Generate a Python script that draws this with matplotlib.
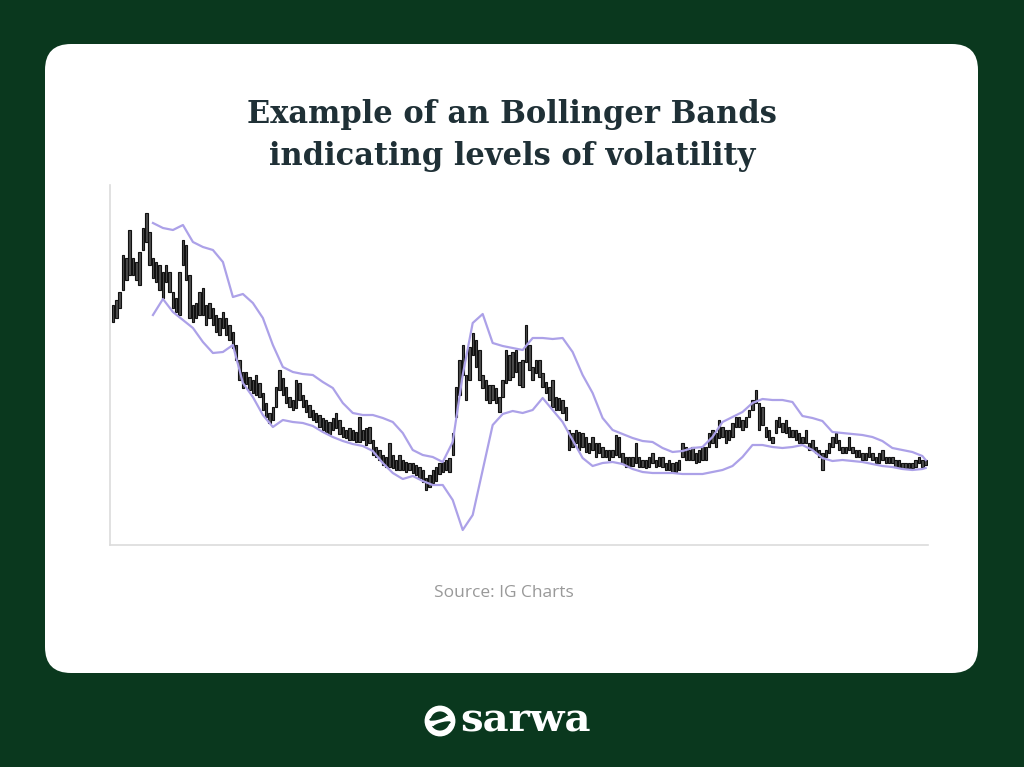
import numpy as np
import matplotlib
matplotlib.use("Agg")
import matplotlib.pyplot as plt
from matplotlib.patches import FancyBboxPatch, Ellipse, Circle

# ---------------- data (price units, arbitrary scale) ----------------
bar_high = [295, 300, 308, 345, 342, 370, 342, 338, 348, 372, 387, 368, 342, 338, 335, 328, 335, 328, 308, 302,
            328, 360, 355, 325, 295, 297, 308, 312, 295, 297, 292, 285, 282, 288, 282, 275, 268, 255, 240, 228,
            228, 223, 220, 225, 217, 207, 197, 187, 193, 213, 230, 222, 213, 203, 200, 220, 217, 205, 200, 195,
            190, 187, 185, 182, 180, 178, 182, 187, 180, 173, 170, 172, 170, 168, 183, 170, 172, 173, 160, 153,
            150, 145, 143, 157, 145, 140, 145, 140, 138, 137, 137, 135, 133, 130, 122, 125, 130, 133, 137, 138,
            140, 142, 167, 213, 240, 255, 225, 253, 267, 260, 250, 225, 220, 215, 215, 212, 203, 220, 250, 245,
            248, 250, 238, 240, 275, 255, 233, 240, 240, 227, 218, 213, 220, 203, 202, 200, 193, 170, 167, 170,
            168, 167, 163, 157, 163, 157, 157, 153, 150, 150, 150, 165, 163, 147, 143, 143, 143, 157, 143, 140,
            140, 143, 147, 140, 143, 143, 137, 140, 137, 138, 140, 157, 153, 150, 153, 147, 150, 153, 153, 167,
            170, 167, 180, 173, 170, 170, 177, 183, 183, 180, 183, 190, 200, 210, 197, 193, 173, 170, 163, 180,
            183, 177, 180, 173, 170, 170, 167, 163, 170, 157, 160, 153, 150, 147, 150, 157, 163, 167, 160, 153,
            153, 163, 153, 150, 150, 147, 147, 153, 147, 143, 147, 150, 143, 143, 143, 140, 140, 137, 137, 137,
            137, 140, 143, 140, 140]
bar_low = [278, 282, 292, 310, 320, 325, 325, 320, 315, 350, 358, 335, 322, 318, 310, 302, 318, 308, 292, 288,
           285, 335, 320, 282, 278, 282, 285, 285, 275, 282, 275, 268, 265, 272, 265, 260, 252, 240, 220, 212,
           216, 210, 207, 205, 203, 190, 183, 177, 180, 193, 210, 205, 197, 193, 190, 192, 200, 193, 188, 183,
           180, 178, 173, 170, 168, 166, 170, 172, 166, 163, 162, 160, 160, 158, 158, 160, 155, 157, 145, 143,
           140, 135, 133, 133, 132, 130, 130, 130, 128, 130, 127, 125, 122, 118, 110, 113, 117, 119, 126, 128,
           130, 128, 145, 183, 205, 225, 200, 220, 245, 233, 220, 212, 200, 197, 200, 197, 188, 203, 217, 220,
           223, 228, 215, 213, 238, 230, 220, 227, 223, 213, 207, 200, 193, 190, 190, 187, 180, 150, 153, 157,
           150, 153, 148, 147, 150, 143, 147, 143, 143, 140, 143, 145, 143, 137, 133, 133, 134, 137, 133, 133,
           132, 133, 137, 133, 134, 133, 130, 130, 128, 128, 130, 143, 140, 140, 140, 137, 138, 140, 140, 153,
           157, 153, 162, 163, 157, 160, 163, 173, 173, 170, 173, 183, 190, 197, 170, 175, 163, 160, 157, 167,
           173, 168, 167, 163, 163, 160, 157, 157, 157, 150, 150, 147, 143, 130, 143, 147, 153, 157, 150, 147,
           147, 150, 147, 143, 143, 140, 140, 143, 140, 137, 137, 140, 137, 137, 137, 133, 133, 132, 132, 132,
           132, 133, 137, 133, 135]

upper_band = [377, 372, 370, 375, 358, 353, 350, 338, 303, 306, 297, 282, 255, 233, 228, 226, 225, 218, 212, 197,
              187, 185, 185, 182, 178, 167, 150, 145, 143, 138, 158, 225, 277, 286, 257, 254, 252, 250, 262, 262,
              261, 262, 248, 225, 207, 182, 170, 166, 162, 159, 158, 152, 148, 149, 152, 153, 163, 178, 183, 188,
              197, 201, 200, 200, 198, 184, 182, 179, 168, 167, 166, 165, 163, 159, 152, 150, 148, 144, 140]
lower_band = [285, 301, 288, 280, 272, 258, 247, 248, 255, 217, 203, 185, 173, 180, 178, 177, 174, 168, 163, 159,
              156, 154, 149, 137, 127, 121, 124, 119, 115, 115, 100, 70, 85, 130, 175, 186, 189, 187, 190, 202,
              190, 178, 160, 142, 134, 137, 138, 136, 131, 128, 127, 127, 127, 126, 126, 126, 128, 130, 134, 143,
              155, 155, 153, 152, 153, 155, 150, 142, 139, 140, 139, 138, 136, 134, 133, 131, 130, 131, 132]

days = np.arange(len(bar_high))
band_days = list(range(12, 244, 3)) + [244]
n_b = min(len(band_days), len(upper_band), len(lower_band))

# ---------------- figure ----------------
W, H = 1024, 767
fig = plt.figure(figsize=(W / 100, H / 100), dpi=100)
bg_col = "#0a381e"
fig.patch.set_facecolor(bg_col)

bg = fig.add_axes([0, 0, 1, 1])
bg.set_xlim(0, W)
bg.set_ylim(H, 0)
bg.axis("off")
card = FancyBboxPatch((45, 44), 933, 629, boxstyle="round,pad=0,rounding_size=26",
                      facecolor="white", edgecolor="none")
bg.add_patch(card)

title_font = ["DejaVu Serif"]
bg.text(512, 123, "Example of an Bollinger Bands", ha="center", va="baseline",
        fontsize=22, fontweight="bold", family=title_font, color="#1f3036")
bg.text(512, 165, "indicating levels of volatility", ha="center", va="baseline",
        fontsize=22, fontweight="bold", family=title_font, color="#1f3036")

bg.text(504, 597, "Source: IG Charts", ha="center", va="baseline",
        fontsize=12.5, family=["Open Sans", "DejaVu Sans"], color="#999999")

# logo
bg.add_patch(Circle((440, 721), 12.5, facecolor="none", edgecolor="white", lw=4.2))
bg.add_patch(Ellipse((440, 721), 26, 8, angle=-15, facecolor="white", edgecolor="none"))
bg.add_patch(Ellipse((438, 717.5), 18, 4.5, angle=-15, facecolor=bg_col, edgecolor="none"))
bg.add_patch(Ellipse((442, 724.5), 18, 4.5, angle=-15, facecolor=bg_col, edgecolor="none"))
bg.text(460, 732, "sarwa", ha="left", va="baseline", fontsize=29, fontweight="bold",
        family=title_font, color="white")

# ---------------- chart axes ----------------
ax = fig.add_axes([110 / W, 1 - 545 / H, 818 / W, 360 / H])
ax.set_facecolor("white")
heights = np.array(bar_high) - np.array(bar_low)
ax.bar(days, heights, bottom=bar_low, width=0.72, color="#4d4d4d",
       edgecolor="#111111", linewidth=0.8)
ax.plot(band_days[:n_b], upper_band[:n_b], color="#aca1e8", lw=1.6, solid_joinstyle="round")
ax.plot(band_days[:n_b], lower_band[:n_b], color="#aca1e8", lw=1.6, solid_joinstyle="round")

ax.set_xlim(-0.9, 244.7)
ax.set_ylim(55, 415)
for s in ["top", "right"]:
    ax.spines[s].set_visible(False)
for s in ["left", "bottom"]:
    ax.spines[s].set_color("#dcdcdc")
    ax.spines[s].set_linewidth(1.2)
ax.set_xticks([])
ax.set_yticks([])

fig.savefig("out.png", dpi=100, facecolor=fig.get_facecolor())
